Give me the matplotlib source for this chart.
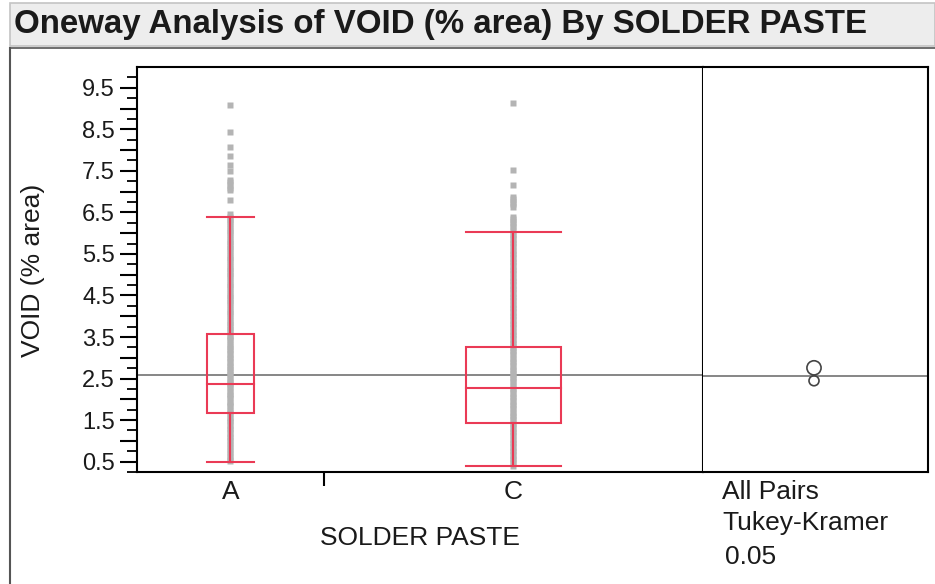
import matplotlib
matplotlib.use("Agg")
import matplotlib.pyplot as plt
from matplotlib.patches import Rectangle, Circle
from matplotlib.lines import Line2D
import numpy as np

plt.rcParams['font.family'] = ['Liberation Sans', 'DejaVu Sans']

# ---------------- data ----------------
categories = ["A", "C"]
group_widths = [0.33, 0.67]          # relative x-width of each level (proportional to n)
whisker_low = [0.50, 0.39]
q1 = [1.68, 1.44]
median = [2.38, 2.28]
q3 = [3.58, 3.26]
whisker_high = [6.38, 6.02]
grand_mean = 2.59

points_A = [0.52, 0.57, 0.63, 0.71, 0.77, 0.84, 0.92, 0.99, 1.06, 1.11, 1.19, 1.26, 1.32,
            1.37, 1.45, 1.51, 1.56, 1.64, 1.70, 1.75, 1.83, 1.89, 1.94, 2.02, 2.08, 2.13,
            2.21, 2.27, 2.34, 2.40, 2.44, 2.51, 2.59, 2.65, 2.70, 2.78, 2.83, 2.91, 2.97,
            3.02, 3.10, 3.16, 3.21, 3.29, 3.34, 3.42, 3.48, 3.53, 3.61, 3.66, 3.74, 3.79,
            3.87, 3.92, 4.00, 4.05, 4.13, 4.18, 4.26, 4.31, 4.39, 4.44, 4.52, 4.57, 4.65,
            4.70, 4.78, 4.83, 4.91, 4.96, 5.04, 5.09, 5.17, 5.22, 5.30, 5.35, 5.43, 5.48,
            5.56, 5.61, 5.69, 5.74, 5.82, 5.87, 5.95, 6.00, 6.08, 6.13, 6.21, 6.26, 6.33,
            6.40, 6.47, 6.81, 7.03, 7.09, 7.16, 7.22, 7.27, 7.49, 7.64, 7.85, 8.07, 8.44,
            9.08]
points_C = [0.40, 0.46, 0.53, 0.59, 0.66, 0.72, 0.79, 0.85, 0.92, 0.98, 1.05, 1.11, 1.18,
            1.24, 1.31, 1.37, 1.44, 1.50, 1.57, 1.63, 1.70, 1.76, 1.83, 1.89, 1.96, 2.02,
            2.09, 2.15, 2.22, 2.28, 2.35, 2.41, 2.48, 2.54, 2.61, 2.67, 2.74, 2.80, 2.87,
            2.93, 3.00, 3.06, 3.13, 3.19, 3.26, 3.32, 3.39, 3.45, 3.52, 3.58, 3.65, 3.71,
            3.78, 3.84, 3.91, 3.97, 4.04, 4.10, 4.17, 4.23, 4.30, 4.36, 4.43, 4.49, 4.56,
            4.62, 4.69, 4.75, 4.82, 4.88, 4.95, 5.01, 5.08, 5.14, 5.21, 5.27, 5.34, 5.40,
            5.47, 5.53, 5.60, 5.66, 5.73, 5.79, 5.86, 5.92, 5.99, 6.07, 6.14, 6.21, 6.28,
            6.34, 6.39, 6.62, 6.69, 6.76, 6.82, 6.87, 7.15, 7.53, 9.14]
group_points = [points_A, points_C]

circle_means = [2.78, 2.47]
circle_radii = [0.17, 0.12]

y_ticks = [0.5, 1.5, 2.5, 3.5, 4.5, 5.5, 6.5, 7.5, 8.5, 9.5]
y_label = "VOID (% area)"
x_label = "SOLDER PASTE"
title = "Oneway Analysis of VOID (% area) By SOLDER PASTE"
test_text = ["All Pairs", "Tukey-Kramer", "0.05"]

# ---------------- figure ----------------
W, H = 935, 584
fig = plt.figure(figsize=(W / 100, H / 100), dpi=100)

def fx(px):
    return px / W

def fy(py):
    return 1 - py / H

TXT = "#1a1a1a"
# title bar
fig.patches.append(Rectangle((fx(10), fy(46)), fx(935 - 10), 43 / H, transform=fig.transFigure,
                             facecolor="#ededed", edgecolor="#c4c4c4", lw=1.2, zorder=0))
fig.text(fx(14), fy(25), title, fontsize=23.8, fontweight="bold", va="center", ha="left",
         color=TXT)
# outer panel border
fig.lines.append(Line2D([fx(10), fx(10)], [fy(48), 0], transform=fig.transFigure,
                        color="#555555", lw=1.5))
fig.lines.append(Line2D([fx(10), 1], [fy(48), fy(48)], transform=fig.transFigure,
                        color="#555555", lw=1.2))

ylim = (0.28, 10.0)
ax = fig.add_axes([fx(137), fy(472), fx(703 - 137), (472 - 67) / H])
ax2 = fig.add_axes([fx(703), fy(472), fx(928 - 703), (472 - 67) / H])

# category positions
edges = np.concatenate([[0], np.cumsum(group_widths)])
centers = (edges[:-1] + edges[1:]) / 2
box_frac = 0.25
red = "#ea3a55"

for i in range(len(categories)):
    c = centers[i]
    bw = group_widths[i] * box_frac
    pts = group_points[i]
    ax.plot([c] * len(pts), pts, ls="none", marker="s", ms=3.8, mfc="#b4b4b4",
            mec="none", zorder=2)
    # box
    ax.add_patch(Rectangle((c - bw / 2, q1[i]), bw, q3[i] - q1[i], fill=False,
                           edgecolor=red, lw=1.5, zorder=3))
    ax.plot([c - bw / 2, c + bw / 2], [median[i]] * 2, color=red, lw=1.5, zorder=3)
    ax.plot([c, c], [q3[i], whisker_high[i]], color=red, lw=1.5, zorder=3)
    ax.plot([c, c], [whisker_low[i], q1[i]], color=red, lw=1.5, zorder=3)
    ax.plot([c - bw / 2, c + bw / 2], [whisker_high[i]] * 2, color=red, lw=1.5, zorder=3)
    ax.plot([c - bw / 2, c + bw / 2], [whisker_low[i]] * 2, color=red, lw=1.5, zorder=3)

ax.axhline(grand_mean, color="#666666", lw=1.1, zorder=1)
ax.set_xlim(0, 1)
ax.set_ylim(*ylim)
ax.set_yticks(np.arange(0.5, 10.0, 0.5))
ax.set_yticklabels([f"{v}" if v in y_ticks else "" for v in np.arange(0.5, 10.0, 0.5)],
                   fontsize=17, color=TXT)
ax.set_yticks(np.arange(0.25, 10.0, 0.5), minor=True)
ax.tick_params(axis="y", which="major", length=12, width=1.5, pad=4)
ax.tick_params(axis="y", which="minor", length=7, width=1.3)
ax.set_xticks(edges[1:-1])
ax.set_xticklabels([""])
ax.tick_params(axis="x", which="major", length=10, width=1.5)
for i, cat in enumerate(categories):
    ax.text(centers[i], -20 / 405, cat, transform=ax.transAxes, ha="center", va="center",
            fontsize=19, color=TXT)
fig.text(fx(420), fy(538), x_label, ha="center", va="center", fontsize=19, color=TXT)
fig.text(fx(33), fy(270), y_label, ha="center", va="center", rotation=90, fontsize=19,
         color=TXT)
for s in ax.spines.values():
    s.set_linewidth(1.5)

# comparison circles panel
ax2.set_ylim(*ylim)
px_per_unit = (472 - 67) / (ylim[1] - ylim[0])
xr = (928 - 703) / px_per_unit
ax2.set_xlim(0, xr)
cx = (814 - 703) / px_per_unit
ax2.axhline(grand_mean, color="#666666", lw=1.1, zorder=1)
for m, r in zip(circle_means, circle_radii):
    ax2.add_patch(Circle((cx, m), r, fill=False, edgecolor="#444444", lw=1.2, zorder=3))
ax2.set_xticks([])
ax2.set_yticks([])
for s in ax2.spines.values():
    s.set_linewidth(1.5)
ax2.spines["left"].set_visible(False)

for t, xp, yp in zip(test_text, [722, 722, 725], [492, 523, 557]):
    fig.text(fx(xp), fy(yp), t, ha="left", va="center", fontsize=19, color=TXT)

fig.savefig("out.png", dpi=100)
